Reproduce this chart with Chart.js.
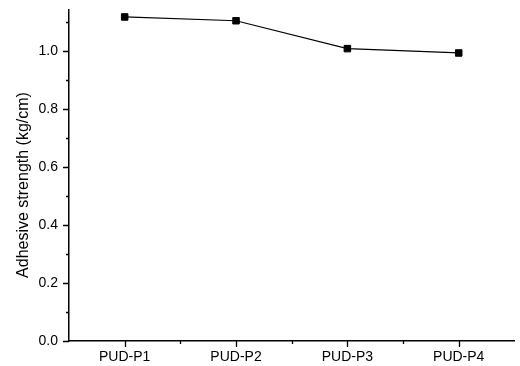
<!DOCTYPE html>
<html>
<head>
<meta charset="utf-8">
<script src="https://cdn.jsdelivr.net/npm/chart.js@4/dist/chart.umd.min.js"></script>
<style>
  html, body { margin: 0; padding: 0; background: #fff; }
  #wrap { width: 520px; height: 366px; }
</style>
</head>
<body>
<div id="wrap"><canvas id="strengthChart" width="520" height="366"></canvas></div>
<script>
// Data
const samples = ['PUD-P1', 'PUD-P2', 'PUD-P3', 'PUD-P4'];
const adhesiveStrength = [1.116, 1.103, 1.007, 0.992];
const yTitle = 'Adhesive strength (kg/cm)';
const yMin = 0;
const yMax = 1.14;
const yStep = 0.1;

const FONT = '"Liberation Sans", Arial, sans-serif';

// Origin style tick marks: long at labelled ticks, short in between
const tickMarks = {
    id: 'tickMarks',
    afterDraw(chart) {
        const ctx = chart.ctx;
        const x = chart.scales.x;
        const y = chart.scales.y;
        ctx.save();
        ctx.strokeStyle = '#000';
        ctx.lineWidth = 1.3;
        ctx.beginPath();
        y.ticks.forEach(t => {
            const py = Math.round(y.getPixelForValue(t.value)) + 0.5;
            const len = t.label !== '' ? 6 : 3;
            ctx.moveTo(y.right, py);
            ctx.lineTo(y.right - len, py);
        });
        samples.forEach((s, i) => {
            const px = Math.round(x.getPixelForValue(i)) + 0.5;
            ctx.moveTo(px, x.top);
            ctx.lineTo(px, x.top + 6);
            if (i < samples.length - 1) {
                const mx = Math.round(x.getPixelForValue(i + 0.5)) + 0.5;
                ctx.moveTo(mx, x.top);
                ctx.lineTo(mx, x.top + 3);
            }
        });
        ctx.stroke();

        // y axis title
        ctx.fillStyle = '#000';
        ctx.font = '16px ' + FONT;
        ctx.textAlign = 'center';
        ctx.textBaseline = 'middle';
        ctx.translate(24, 185);
        ctx.rotate(-Math.PI / 2);
        ctx.fillText(yTitle, 0, 0);
        ctx.restore();
    }
};

const ctx = document.getElementById('strengthChart').getContext('2d');
new Chart(ctx, {
    type: 'line',
    data: {
        labels: samples,
        datasets: [{
            data: adhesiveStrength,
            borderColor: '#000',
            borderWidth: 1.2,
            pointStyle: 'rect',
            pointRadius: 4.6,
            pointBackgroundColor: '#000',
            pointBorderColor: '#000',
            pointBorderWidth: 1,
            tension: 0
        }]
    },
    options: {
        responsive: false,
        animation: false,
        layout: { padding: { top: 10, right: 0, left: 0, bottom: 0 } },
        plugins: {
            legend: { display: false },
            tooltip: { enabled: false }
        },
        scales: {
            x: {
                type: 'category',
                offset: true,
                afterFit(scale) {
                    scale.height = 25;
                    scale.paddingLeft = 0;
                    scale.paddingRight = 0;
                },
                grid: { display: true, drawOnChartArea: false, drawTicks: false, offset: true },
                border: { display: true, color: '#000', width: 1.5 },
                ticks: {
                    color: '#000',
                    padding: 8,
                    maxRotation: 0,
                    font: { family: FONT, size: 14 }
                }
            },
            y: {
                min: yMin,
                max: yMax,
                afterFit(scale) {
                    scale.width = 69;
                    scale.paddingTop = 0;
                    scale.paddingBottom = 0;
                },
                grid: { display: true, drawOnChartArea: false, drawTicks: false },
                border: { display: true, color: '#000', width: 1.5 },
                ticks: {
                    stepSize: yStep,
                    includeBounds: false,
                    autoSkip: false,
                    color: '#000',
                    padding: 11,
                    font: { family: FONT, size: 14 },
                    callback: function(value) {
                        const k = Math.round(value * 10);
                        return k % 2 === 0 ? (k / 10).toFixed(1) : '';
                    }
                }
            }
        }
    },
    plugins: [tickMarks]
});
</script>
</body>
</html>
